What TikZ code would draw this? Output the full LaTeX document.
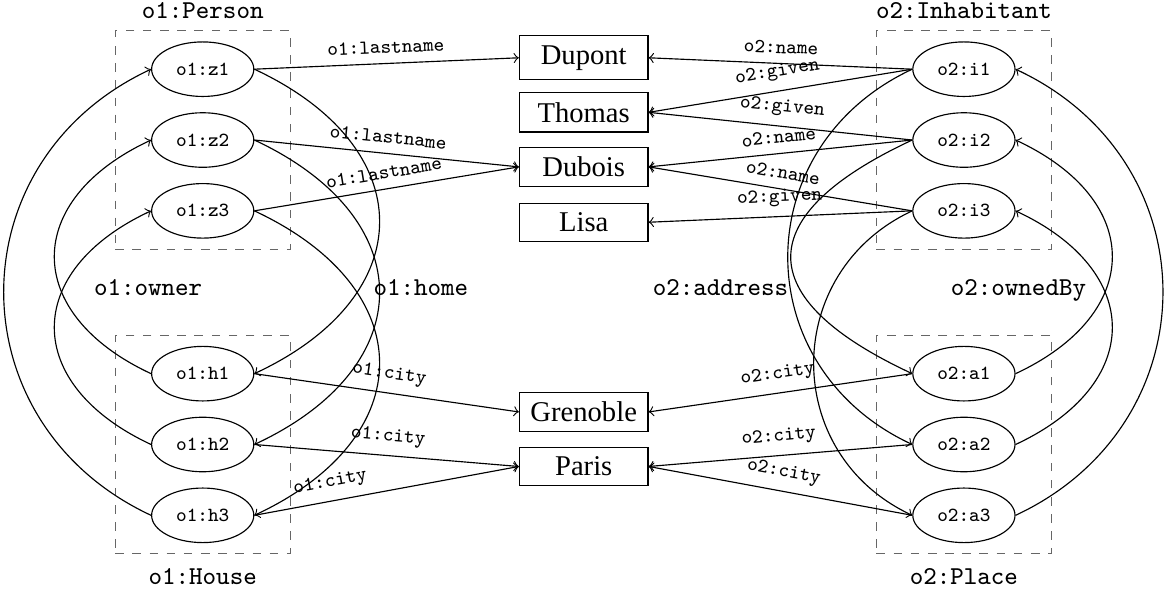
\documentclass[tikz,border=0pt]{standalone}
\usepackage{fontspec}
\setmainfont{Liberation Serif}
\usetikzlibrary{positioning,fit,shapes.geometric}

\tikzset{
  entity/.style={draw, ellipse, minimum width=1.12cm, minimum height=0.67cm, font=\scriptsize\ttfamily},
  literal/.style={draw, rectangle, minimum width=1.58cm},
  group/.style={draw=black!60, dashed},
  grouplabel/.style={font=\small\ttfamily},
  prop/.style={font=\scriptsize\ttfamily, sloped, above},
  rel/.style={font=\small\ttfamily, anchor=base},
}

\begin{document}
\begin{tikzpicture}
    \useasboundingbox (0,0) rectangle (14.31,7.25);
    % o1 side
    \node[entity] (z1) at (2.49,6.40) {o1:z1};
    \node[entity] (z2) at (2.49,5.53) {o1:z2};
    \node[entity] (z3) at (2.49,4.66) {o1:z3};
    \node[entity] (h1) at (2.49,2.66) {o1:h1};
    \node[entity] (h2) at (2.49,1.79) {o1:h2};
    \node[entity] (h3) at (2.49,0.92) {o1:h3};
    \node[group, fit=(z1) (z3), inner xsep=0.44cm, inner ysep=0.13cm] (person) {};
    \node[group, fit=(h1) (h3), inner xsep=0.44cm, inner ysep=0.13cm] (house) {};
    \node[grouplabel, above=0.02cm of person] (personlbl) {o1:Person};
    \node[grouplabel, below=0.05cm of house] (houselbl) {o1:House};

    % o2 side
    \node[entity] (i1) at (11.84,6.40) {o2:i1};
    \node[entity] (i2) at (11.84,5.53) {o2:i2};
    \node[entity] (i3) at (11.84,4.66) {o2:i3};
    \node[entity] (a1) at (11.84,2.66) {o2:a1};
    \node[entity] (a2) at (11.84,1.79) {o2:a2};
    \node[entity] (a3) at (11.84,0.92) {o2:a3};
    \node[group, fit=(i1) (i3), inner xsep=0.44cm, inner ysep=0.13cm] (inhabitant) {};
    \node[group, fit=(a1) (a3), inner xsep=0.44cm, inner ysep=0.13cm] (place) {};
    \node[grouplabel, above=0.02cm of inhabitant] (inhabitantlbl) {o2:Inhabitant};
    \node[grouplabel, below=0.05cm of place] (placelbl) {o2:Place};

    % literals
    \node[literal] (dupont) at (7.17,6.54) {Dupont};
    \node[literal] (thomas) at (7.17,5.87) {Thomas};
    \node[literal] (dubois) at (7.17,5.20) {Dubois};
    \node[literal] (lisa) at (7.17,4.52) {Lisa};
    \node[literal] (grenoble) at (7.17,2.19) {Grenoble};
    \node[literal] (paris) at (7.17,1.52) {Paris};

    % datatype properties
    \draw[->] (z1.east) -- (dupont.west) node[prop, midway] {o1:lastname};
    \draw[->] (z2.east) -- (dubois.west) node[prop, midway] {o1:lastname};
    \draw[->] (z3.east) -- (dubois.west) node[prop, midway] {o1:lastname};
    \draw[->] (h1.east) -- (grenoble.west) node[prop, midway] {o1:city};
    \draw[->] (h2.east) -- (paris.west) node[prop, midway] {o1:city};
    \draw[->] (h3.east) -- (paris.west) node[prop, pos=0.3] {o1:city};
    \draw[->] (i1.west) -- (dupont.east) node[prop, midway] {o2:name};
    \draw[->] (i1.west) -- (thomas.east) node[prop, midway] {o2:given};
    \draw[->] (i2.west) -- (thomas.east) node[prop, midway] {o2:given};
    \draw[->] (i2.west) -- (dubois.east) node[prop, midway] {o2:name};
    \draw[->] (i3.west) -- (dubois.east) node[prop, midway] {o2:name};
    \draw[->] (i3.west) -- (lisa.east) node[prop, midway] {o2:given};
    \draw[->] (a1.west) -- (grenoble.east) node[prop, midway] {o2:city};
    \draw[->] (a2.west) -- (paris.east) node[prop, midway] {o2:city};
    \draw[->] (a3.west) -- (paris.east) node[prop, midway] {o2:city};

    % object properties
    \draw[->] (h1.west) to[out=155, in=-155, looseness=1.56] (z2.west);
    \draw[->] (h2.west) to[out=155, in=-155, looseness=1.56] (z3.west);
    \draw[->] (h3.west) to[out=155, in=-155, looseness=1.245] (z1.west);
    \draw[->] (z1.east) to[out=-25, in=25, looseness=1.55] (h1.east);
    \draw[->] (z2.east) to[out=-25, in=25, looseness=1.55] (h2.east);
    \draw[->] (z3.east) to[out=-25, in=25, looseness=1.55] (h3.east);
    \draw[->] (i1.west) to[out=205, in=155, looseness=1.25] (a2.west);
    \draw[->] (i2.west) to[out=205, in=155, looseness=1.96] (a1.west);
    \draw[->] (i3.west) to[out=205, in=155, looseness=1.22] (a3.west);
    \draw[->] (a1.east) to[out=25, in=-25, looseness=1.56] (i2.east);
    \draw[->] (a2.east) to[out=25, in=-25, looseness=1.56] (i3.east);
    \draw[->] (a3.east) to[out=25, in=-25, looseness=1.245] (i1.east);

    \node[rel] (owner) at (1.82,3.62) {o1:owner};
    \node[rel] (home) at (5.17,3.62) {o1:home};
    \node[rel] (address) at (8.85,3.62) {o2:address};
    \node[rel] (ownedby) at (12.51,3.62) {o2:ownedBy};
\end{tikzpicture}
\end{document}
